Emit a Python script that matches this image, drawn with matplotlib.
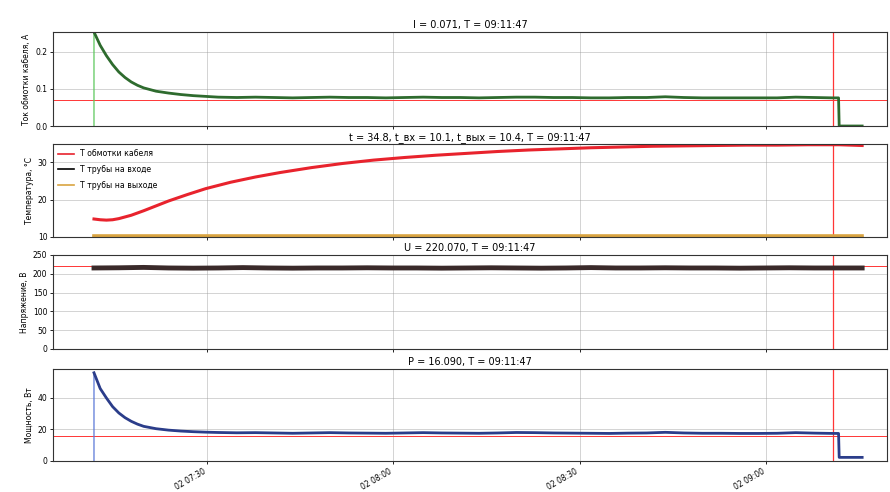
import datetime as dt
import matplotlib
matplotlib.use("Agg")
import matplotlib.pyplot as plt
import matplotlib.dates as mdates

plt.rcParams['font.family'] = ['DejaVu Sans']

# ---------------- data ----------------
start = dt.datetime(2024, 1, 2, 7, 11, 47)
marker_time = dt.datetime(2024, 1, 2, 9, 10, 50)

# minutes after start for current / power
ip_minutes = [0, 0, 1, 2, 3, 4, 5, 6, 7, 8, 10, 12, 14, 16, 18, 20,
              23, 26, 29, 32, 35, 38, 41, 44, 47, 50, 53, 56, 59, 62, 65, 68,
              71, 74, 77, 80, 83, 86, 89, 92, 95, 98, 101, 104, 107, 110, 113,
              116, 119, 119.9, 120, 123.7]
current = [0.0, 0.254, 0.218, 0.190, 0.166, 0.146, 0.131, 0.119, 0.110, 0.103,
           0.094, 0.089, 0.085, 0.082, 0.080, 0.078,
           0.077, 0.078, 0.077, 0.076, 0.077, 0.078, 0.077, 0.077, 0.076, 0.077,
           0.078, 0.077, 0.077, 0.076, 0.077, 0.078, 0.078, 0.077, 0.077, 0.076,
           0.076, 0.077, 0.077, 0.079, 0.077, 0.076, 0.076, 0.076, 0.076, 0.076,
           0.078, 0.077, 0.076, 0.076, 0.0, 0.0]
power = [0.0, 56.0, 46.0, 40.0, 34.5, 30.5, 27.5, 25.2, 23.4, 22.0,
         20.5, 19.6, 19.0, 18.6, 18.3, 18.1,
         17.9, 18.0, 17.8, 17.6, 17.8, 18.0, 17.8, 17.7, 17.6, 17.8,
         18.0, 17.8, 17.7, 17.6, 17.8, 18.1, 18.0, 17.8, 17.7, 17.6,
         17.5, 17.7, 17.8, 18.2, 17.8, 17.6, 17.6, 17.5, 17.5, 17.6,
         18.0, 17.7, 17.5, 17.5, 2.3, 2.3]

# temperatures
temp_minutes = [0, 1, 2, 3, 4, 6, 8, 10, 12, 15, 18, 22, 26, 30, 35, 40, 45,
                50, 55, 60, 65, 70, 75, 80, 85, 90, 95, 100, 105, 110, 115,
                120, 123.7]
t_cable = [14.8, 14.6, 14.5, 14.6, 14.9, 15.8, 17.0, 18.3, 19.6, 21.3, 22.9,
           24.6, 26.0, 27.2, 28.5, 29.6, 30.5, 31.2, 31.8, 32.3, 32.8, 33.2,
           33.5, 33.8, 34.0, 34.2, 34.3, 34.4, 34.5, 34.5, 34.6, 34.6, 34.4]
t_in = [10.1] * len(temp_minutes)
t_out = [10.4] * len(temp_minutes)

# voltage
u_minutes = [0, 4, 8, 12, 16, 20, 24, 28, 32, 36, 40, 44, 48, 52, 56, 60, 64,
             68, 72, 76, 80, 84, 88, 92, 96, 100, 104, 108, 112, 116, 120, 123.7]
voltage = [215.5, 216.0, 217.0, 215.5, 215.0, 215.5, 216.5, 215.5, 215.0,
           215.5, 215.5, 216.0, 215.5, 215.5, 215.0, 215.5, 216.0, 215.5,
           215.0, 215.5, 216.5, 215.5, 215.5, 216.0, 215.5, 215.5, 215.0,
           215.5, 216.0, 215.5, 215.5, 215.5]

cur_values = {'I': 0.071, 'U': 220.070, 'P': 16.090}
titles = ["I = 0.071, T = 09:11:47",
          "t = 34.8, t_вх = 10.1, t_вых = 10.4, T = 09:11:47",
          "U = 220.070, T = 09:11:47",
          "P = 16.090, T = 09:11:47"]
ylabels = ["Ток обмотки кабеля, А", "Температура, °С", "Напряжение, В",
           "Мощность, Вт"]
legend_labels = ["T обмотки кабеля", "T трубы на входе", "T трубы на выходе"]


def to_time(mins):
    return [start + dt.timedelta(minutes=m) for m in mins]


ip_t = to_time(ip_minutes)
temp_t = to_time(temp_minutes)
u_t = to_time(u_minutes)

# ---------------- figure ----------------
fig = plt.figure(figsize=(8.9, 4.92), dpi=100)
left, width = 53 / 890, (887 - 53) / 890
boxes = [(32, 126), (144, 237), (255, 349), (369, 461)]
axes = []
for i, (top, bot) in enumerate(boxes):
    ax = fig.add_axes([left, 1 - bot / 492, width, (bot - top) / 492],
                      sharex=axes[0] if axes else None)
    axes.append(ax)

xlim = (start - dt.timedelta(minutes=6.6), start + dt.timedelta(minutes=127.7))
RED = '#ff3535'

for ax, title, ylab in zip(axes, titles, ylabels):
    ax.set_title(title, fontsize=7.0, pad=3)
    ax.set_ylabel(ylab, fontsize=5.5, labelpad=3)
    ax.grid(True, color='#999999', linewidth=0.5, alpha=0.6)
    ax.tick_params(labelsize=5.5, length=2, width=0.6, pad=2)
    for s in ax.spines.values():
        s.set_linewidth(0.8)
        s.set_color('#333333')
    ax.axvline(marker_time, color=RED, linewidth=0.9, zorder=1)
    ax.set_axisbelow(True)

# Panel 1: current
ax = axes[0]
ax.plot(ip_t, current, color='#5cc85c', linewidth=0.9)
ax.plot(ip_t[1:], current[1:], color='#2e6b2e', linewidth=2.0)
ax.axhline(cur_values['I'], color=RED, linewidth=0.7, zorder=1)
ax.set_ylim(0, 0.254)
ax.set_yticks([0.0, 0.1, 0.2])

# Panel 2: temperature
ax = axes[1]
ax.plot(temp_t, t_cable, color='#e8232d', linewidth=2.2, label=legend_labels[0])
ax.plot(temp_t, t_in, color='black', linewidth=1.6, label=legend_labels[1])
ax.plot(temp_t, t_out, color='#d9a441', linewidth=2.6, label=legend_labels[2])
ax.set_ylim(10.0, 34.8)
ax.set_yticks([10, 20, 30])
leg = ax.legend(loc='upper left', fontsize=5.6, frameon=False,
                handlelength=2.0, borderaxespad=0.3, labelspacing=0.85)
for h in leg.get_lines():
    h.set_linewidth(1.2)

# Panel 3: voltage
ax = axes[2]
ax.plot(u_t, voltage, color='#3a2a2a', linewidth=3.5)
ax.axhline(cur_values['U'], color=RED, linewidth=0.7, zorder=1)
ax.set_ylim(0, 250)
ax.set_yticks([0, 50, 100, 150, 200, 250])

# Panel 4: power
ax = axes[3]
ax.plot(ip_t, power, color='#5a78d8', linewidth=0.9)
ax.plot(ip_t[1:], power[1:], color='#2b3d8a', linewidth=2.0)
ax.axhline(cur_values['P'], color=RED, linewidth=0.7, zorder=1)
ax.set_ylim(0, 58.4)
ax.set_yticks([0, 20, 40])

axes[0].set_xlim(*xlim)
axes[3].xaxis.set_major_locator(mdates.MinuteLocator(byminute=[0, 30]))
axes[3].xaxis.set_major_formatter(mdates.DateFormatter('%d %H:%M'))
for ax in axes[:3]:
    plt.setp(ax.get_xticklabels(), visible=False)
plt.setp(axes[3].get_xticklabels(), rotation=30, ha='right', fontsize=5.5)

fig.savefig("out.png", dpi=100)
